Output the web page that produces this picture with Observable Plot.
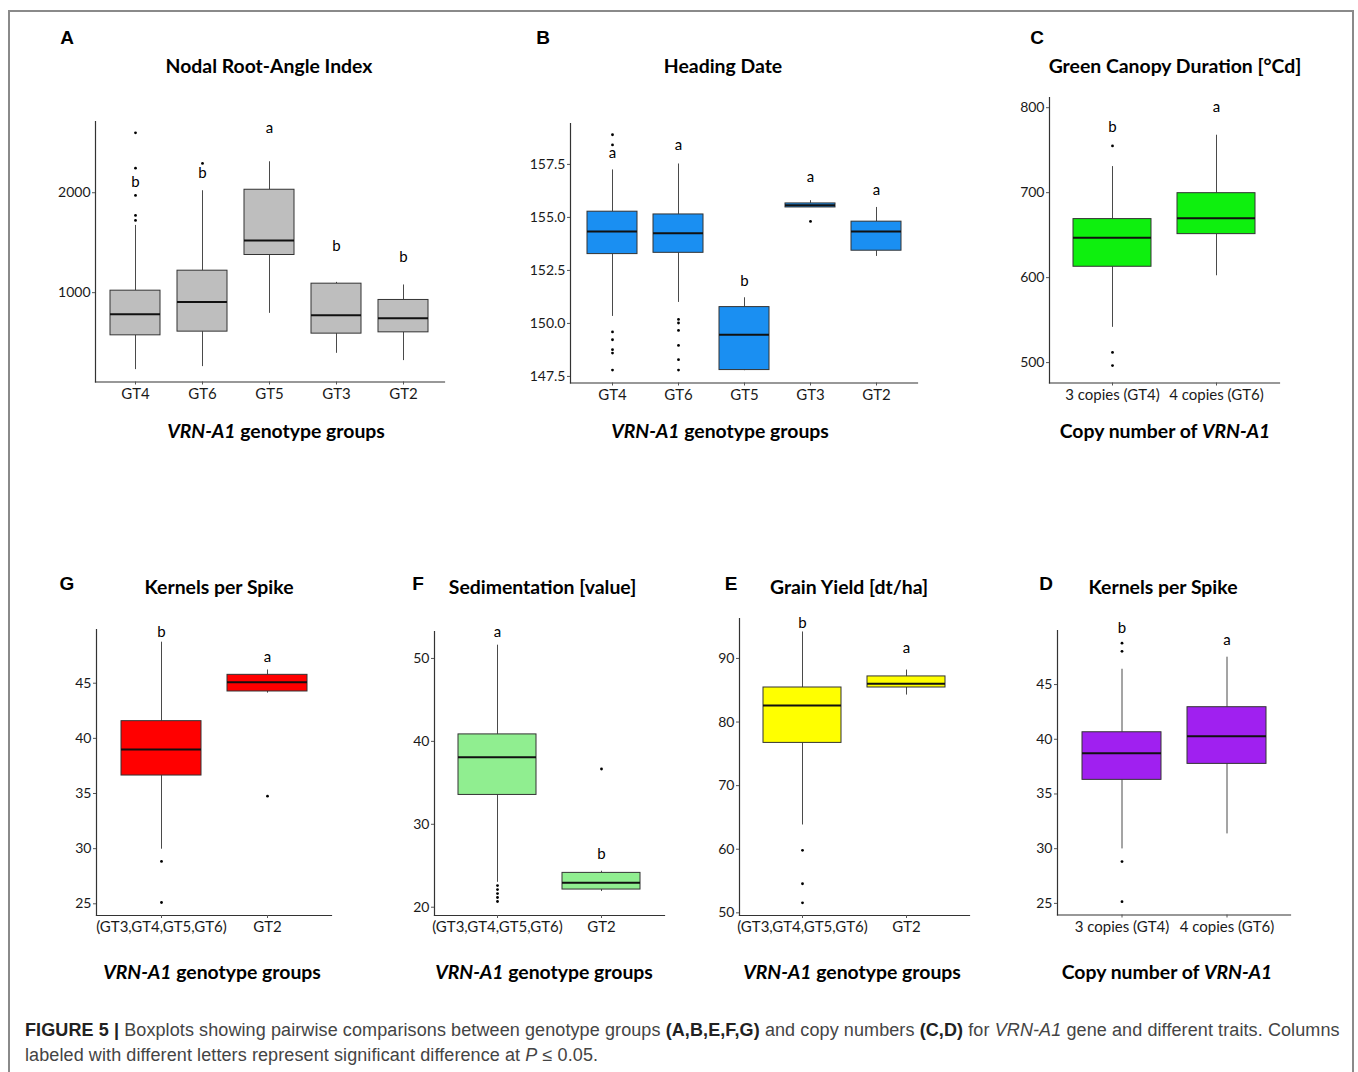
<!DOCTYPE html>
<html>
<head>
<meta charset="utf-8">
<script src="https://cdn.jsdelivr.net/npm/d3@7"></script>
<script src="https://cdn.jsdelivr.net/npm/@observablehq/plot@0.6"></script>
<style>
  html, body { margin: 0; padding: 0; background: #fff; }
  body { width: 1358px; height: 1072px; overflow: hidden; position: relative; }
  #root { position: absolute; left: 0; top: 0; width: 1358px; height: 1072px; }
  .frame { position: absolute; left: 8px; top: 10px; width: 1346px; height: 1120px; border: 2px solid #8a8a8a; box-sizing: border-box; }
  .lbl { position: absolute; transform: translate(-50%, -50%); white-space: nowrap; font-family: Lato, "Open Sans", sans-serif; color: #000; }
  .title { font-weight: 700; font-size: 19.4px; }
  .letter { font-family: "Liberation Sans", Arial, sans-serif; font-weight: 700; font-size: 19px; }
  .axt { font-weight: 700; font-size: 19.4px; }
  .panel { position: absolute; }
  #caption { position: absolute; left: 25px; top: 1018px; font-family: "Liberation Sans", Arial, sans-serif; font-size: 18px; letter-spacing: 0.1px; line-height: 25px; color: #444; white-space: nowrap; }
  #caption b { color: #222; }
</style>
</head>
<body>
<div id="root">
  <div class="frame"></div>
  <div id="caption"><b>FIGURE 5 |</b> Boxplots showing pairwise comparisons between genotype groups <b>(A,B,E,F,G)</b> and copy numbers <b>(C,D)</b> for <i>VRN-A1</i> gene and different traits. Columns<br>labeled with different letters represent significant difference at <i>P</i> ≤ 0.05.</div>
</div>
<script>
// ---------- Panel A: Nodal Root-Angle Index ----------
const groupsA = ["GT4", "GT6", "GT5", "GT3", "GT2"];
const lowA  = [230, 260, 793, 393, 320];
const q1A   = [573, 610, 1377, 590, 603];
const medA  = [783, 907, 1523, 773, 743];
const q3A   = [1020, 1220, 2030, 1090, 927];
const highA = [1673, 2020, 2310, 1103, 1077];
const outGroupA = ["GT4", "GT4", "GT4", "GT4", "GT4", "GT6"];
const outValueA = [2600, 2246, 1973, 1773, 1723, 2293];
const lettersA = ["b", "b", "a", "b", "b"];
const letterYA = [2106, 2200, 2643, 1470, 1353];
const ticksA = [1000, 2000];

// ---------- Panel B: Heading Date ----------
const groupsB = ["GT4", "GT6", "GT5", "GT3", "GT2"];
const lowB  = [150.33, 150.99, 147.77, 155.47, 153.16];
const q1B   = [153.27, 153.33, 147.80, 155.47, 153.43];
const medB  = [154.34, 154.25, 149.47, 155.57, 154.34];
const q3B   = [155.27, 155.14, 150.77, 155.66, 154.80];
const highB = [157.24, 157.52, 151.21, 155.79, 155.47];
const outGroupB = ["GT4", "GT4", "GT4", "GT4", "GT4", "GT4", "GT4",
                   "GT6", "GT6", "GT6", "GT6", "GT6", "GT6", "GT3"];
const outValueB = [158.90, 158.42, 149.60, 149.23, 148.76, 148.60, 147.80,
                   150.19, 150.02, 149.67, 148.96, 148.29, 147.80, 154.81];
const lettersB = ["a", "a", "b", "a", "a"];
const letterYB = [158.04, 158.42, 151.97, 156.89, 156.29];
const ticksB = [147.5, 150.0, 152.5, 155.0, 157.5];

// ---------- Panel C: Green Canopy Duration ----------
const groupsC = ["3 copies (GT4)", "4 copies (GT6)"];
const lowC  = [541.5, 602.2];
const q1C   = [612.8, 651.2];
const medC  = [646.9, 670.0];
const q3C   = [668.9, 699.4];
const highC = [730.7, 767.6];
const outGroupC = ["3 copies (GT4)", "3 copies (GT4)", "3 copies (GT4)"];
const outValueC = [755, 512, 496.5];
const lettersC = ["b", "a"];
const letterYC = [777, 801];
const ticksC = [500, 600, 700, 800];

// ---------- Panel G: Kernels per Spike (groups) ----------
const groupsG = ["(GT3,GT4,GT5,GT6)", "GT2"];
const lowG  = [29.95, 44.10];
const q1G   = [36.63, 44.25];
const medG  = [38.99, 45.09];
const q3G   = [41.56, 45.76];
const highG = [48.72, 46.20];
const outGroupG = ["(GT3,GT4,GT5,GT6)", "(GT3,GT4,GT5,GT6)", "GT2"];
const outValueG = [28.84, 25.12, 34.76];
const lettersG = ["b", "a"];
const letterYG = [49.6, 47.36];
const ticksG = [25, 30, 35, 40, 45];

// ---------- Panel F: Sedimentation ----------
const groupsF = ["(GT3,GT4,GT5,GT6)", "GT2"];
const lowF  = [23.0, 21.89];
const q1F   = [33.54, 22.13];
const medF  = [38.07, 22.94];
const q3F   = [40.84, 24.14];
const highF = [51.6, 24.34];
const outGroupF = ["(GT3,GT4,GT5,GT6)", "(GT3,GT4,GT5,GT6)", "(GT3,GT4,GT5,GT6)", "(GT3,GT4,GT5,GT6)", "(GT3,GT4,GT5,GT6)", "GT2"];
const outValueF = [22.61, 22.13, 21.65, 21.17, 20.69, 36.67];
const lettersF = ["a", "b"];
const letterYF = [53.13, 26.35];
const ticksF = [20, 30, 40, 50];

// ---------- Panel E: Grain Yield ----------
const groupsE = ["(GT3,GT4,GT5,GT6)", "GT2"];
const lowE  = [63.81, 84.24];
const q1E   = [76.72, 85.43];
const medE  = [82.6, 86.02];
const q3E   = [85.43, 87.17];
const highE = [94.16, 88.17];
const outGroupE = ["(GT3,GT4,GT5,GT6)", "(GT3,GT4,GT5,GT6)", "(GT3,GT4,GT5,GT6)"];
const outValueE = [59.83, 54.57, 51.57];
const lettersE = ["b", "a"];
const letterYE = [95.6, 91.6];
const ticksE = [50, 60, 70, 80, 90];

// ---------- Panel D: Kernels per Spike (copies) ----------
const groupsD = ["3 copies (GT4)", "4 copies (GT6)"];
const lowD  = [29.98, 31.35];
const q1D   = [36.29, 37.75];
const medD  = [38.72, 40.27];
const q3D   = [40.64, 42.93];
const highD = [46.4, 47.5];
const outGroupD = ["3 copies (GT4)", "3 copies (GT4)", "3 copies (GT4)", "3 copies (GT4)"];
const outValueD = [48.78, 48.04, 28.82, 25.16];
const lettersD = ["b", "a"];
const letterYD = [50.15, 49.1];
const ticksD = [25, 30, 35, 40, 45];

// ---------- layout / styling ----------
const panels = [
  {id: "A", title: "Nodal Root-Angle Index", xtitle: "<i>VRN-A1</i> genotype groups",
   groups: groupsA, lo: lowA, q1: q1A, med: medA, q3: q3A, hi: highA, og: outGroupA, ov: outValueA, lt: lettersA, ly: letterYA,
   ticks: ticksA, fmt: d3.format("d"), ydom: [106, 2713], fill: "#bebebe",
   box: [95, 121, 444, 381.5], titlePos: [269, 65], letterPos: [67, 38], xtPos: [276, 430]},
  {id: "B", title: "Heading Date", xtitle: "<i>VRN-A1</i> genotype groups",
   groups: groupsB, lo: lowB, q1: q1B, med: medB, q3: q3B, hi: highB, og: outGroupB, ov: outValueB, lt: lettersB, ly: letterYB,
   ticks: ticksB, fmt: d3.format(".1f"), ydom: [147.19, 159.43], fill: "#1a8ff2",
   box: [570, 123, 917, 382.5], titlePos: [723, 65], letterPos: [543, 38], xtPos: [720, 430]},
  {id: "C", title: "Green Canopy Duration [°Cd]", xtitle: "Copy number of <i>VRN-A1</i>",
   groups: groupsC, lo: lowC, q1: q1C, med: medC, q3: q3C, hi: highC, og: outGroupC, ov: outValueC, lt: lettersC, ly: letterYC,
   ticks: ticksC, fmt: d3.format("d"), ydom: [476, 812], fill: "#0ef00e",
   box: [1049, 97, 1279, 382.5], titlePos: [1175, 65], letterPos: [1037, 38], xtPos: [1165, 430]},
  {id: "G", title: "Kernels per Spike", xtitle: "<i>VRN-A1</i> genotype groups",
   groups: groupsG, lo: lowG, q1: q1G, med: medG, q3: q3G, hi: highG, og: outGroupG, ov: outValueG, lt: lettersG, ly: letterYG,
   ticks: ticksG, fmt: d3.format("d"), ydom: [23.94, 49.87], fill: "#ff0000",
   box: [96, 629, 331, 915], titlePos: [219, 586], letterPos: [67, 584], xtPos: [212, 971]},
  {id: "F", title: "Sedimentation [value]", xtitle: "<i>VRN-A1</i> genotype groups",
   groups: groupsF, lo: lowF, q1: q1F, med: medF, q3: q3F, hi: highF, og: outGroupF, ov: outValueF, lt: lettersF, ly: letterYF,
   ticks: ticksF, fmt: d3.format("d"), ydom: [19.0, 53.25], fill: "#90ee90",
   box: [434, 631, 664, 915], titlePos: [542.5, 586], letterPos: [418, 584], xtPos: [544, 971]},
  {id: "E", title: "Grain Yield [dt/ha]", xtitle: "<i>VRN-A1</i> genotype groups",
   groups: groupsE, lo: lowE, q1: q1E, med: medE, q3: q3E, hi: highE, og: outGroupE, ov: outValueE, lt: lettersE, ly: letterYE,
   ticks: ticksE, fmt: d3.format("d"), ydom: [49.58, 96.28], fill: "#ffff00",
   box: [739, 618, 969, 915], titlePos: [849, 586], letterPos: [731, 584], xtPos: [852, 971]},
  {id: "D", title: "Kernels per Spike", xtitle: "Copy number of <i>VRN-A1</i>",
   groups: groupsD, lo: lowD, q1: q1D, med: medD, q3: q3D, hi: highD, og: outGroupD, ov: outValueD, lt: lettersD, ly: letterYD,
   ticks: ticksD, fmt: d3.format("d"), ydom: [23.94, 49.94], fill: "#a020f0",
   box: [1057, 630, 1290, 914.5], titlePos: [1163, 586], letterPos: [1046, 584], xtPos: [1167, 971]}
];

const root = document.getElementById("root");
const mL = 50, mR = 14, mT = 6, mB = 28;

function addLabel(cls, html, pos) {
  const d = document.createElement("div");
  d.className = "lbl " + cls;
  d.innerHTML = html;
  d.style.left = pos[0] + "px";
  d.style.top = pos[1] + "px";
  root.appendChild(d);
}

for (const p of panels) {
  const rows = p.groups.map((g, i) => ({g, lo: p.lo[i], q1: p.q1[i], med: p.med[i], q3: p.q3[i], hi: p.hi[i], letter: p.lt[i], ly: p.ly[i]}));
  const outs = p.og.map((g, i) => ({g, v: p.ov[i]}));
  const [x0, y0, x1, y1] = p.box;
  const w = mL + (x1 - x0) + mR;
  const h = mT + (y1 - y0) + mB;
  const chart = Plot.plot({
    width: w, height: h,
    marginLeft: mL, marginRight: mR, marginTop: mT, marginBottom: mB,
    style: {background: "none", overflow: "visible", fontFamily: "Lato, 'Open Sans', sans-serif", color: "#1a1a1a"},
    x: {type: "band", domain: p.groups, paddingInner: 0.25, paddingOuter: 0.225, axis: null, label: null},
    y: {domain: p.ydom, axis: null, label: null},
    marks: [
      Plot.ruleX(rows, {x: "g", y1: "lo", y2: "q1", stroke: "#4a4a4a", strokeWidth: 1}),
      Plot.ruleX(rows, {x: "g", y1: "q3", y2: "hi", stroke: "#4a4a4a", strokeWidth: 1}),
      Plot.barY(rows, {x: "g", y1: "q1", y2: "q3", fill: p.fill, stroke: "#333", strokeWidth: 1}),
      Plot.tickY(rows, {x: "g", y: "med", stroke: "#111", strokeWidth: 2}),
      Plot.dot(outs, {x: "g", y: "v", r: 1.4, fill: "#000", stroke: "none"}),
      Plot.text(rows, {x: "g", y: "ly", text: "letter", fontSize: 15, fill: "#000"}),
      Plot.frame({anchor: "left", stroke: "#333", strokeWidth: 1.2}),
      Plot.frame({anchor: "bottom", stroke: "#333", strokeWidth: 1.2}),
      Plot.axisY({ticks: p.ticks, tickFormat: p.fmt, tickSize: 3, tickPadding: 2, fontSize: 14, stroke: "#555", label: null}),
      Plot.axisX({tickSize: 3, tickPadding: 3, fontSize: 15, stroke: "#555", label: null})
    ]
  });
  const wrap = document.createElement("div");
  wrap.className = "panel";
  wrap.style.left = (x0 - mL) + "px";
  wrap.style.top = (y0 - mT) + "px";
  wrap.style.width = w + "px";
  wrap.style.height = h + "px";
  wrap.appendChild(chart);
  root.appendChild(wrap);

  addLabel("title", p.title, p.titlePos);
  addLabel("letter", p.id, p.letterPos);
  addLabel("axt", p.xtitle, p.xtPos);
}
</script>
</body>
</html>
